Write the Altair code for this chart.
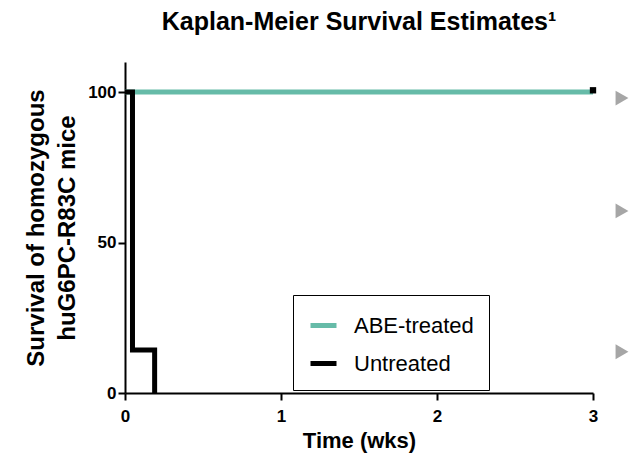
import altair as alt
import pandas as pd

# Data
abe_time = [0, 3]
abe_surv = [100, 100]
untr_time = [0, 0.048, 0.19]
untr_surv = [100, 14.3, 0]
censor_time = [3]
censor_surv = [100.6]
groups = ["ABE-treated", "Untreated"]
colors = ["#66bba8", "#000000"]
bullet_y = [98, 60.5, 13.7]

FONT = "Liberation Sans"

abe = pd.DataFrame({"t": abe_time, "s": abe_surv, "g": groups[0]})
untr = pd.DataFrame({"t": untr_time, "s": untr_surv, "g": groups[1]})
cens = pd.DataFrame({"t": censor_time, "s": censor_surv})
bul = pd.DataFrame({"y": bullet_y})

xs = alt.Scale(domain=[0, 3], nice=False)
ys = alt.Scale(domain=[0, 110], nice=False)
cs = alt.Scale(domain=groups, range=colors)

xax = alt.Axis(values=[0, 1, 2, 3], format="d", title="Time (wks)", grid=False,
               labelFont=FONT, labelFontSize=17, labelFontWeight="bold", labelColor="black",
               titleFont=FONT, titleFontSize=22, titleFontWeight="bold", titleColor="black",
               domainColor="black", domainWidth=2, tickColor="black", tickWidth=2, tickSize=7,
               labelPadding=8, titlePadding=6, labelFlush=False)
yax = alt.Axis(values=[0, 50, 100], format="d", title=["Survival of homozygous", "huG6PC-R83C mice"], grid=False,
               labelFont=FONT, labelFontSize=17, labelFontWeight="bold", labelColor="black",
               titleFont=FONT, titleFontSize=24, titleFontWeight="bold", titleColor="black",
               titleLineHeight=31,
               domainColor="black", domainWidth=2, tickColor="black", tickWidth=2, tickSize=7,
               labelPadding=2, titlePadding=8)

legend = alt.Legend(title=None, orient="none", legendX=168, legendY=233,
                    labelFont=FONT, labelFontSize=22, labelColor="black",
                    symbolType="stroke", symbolStrokeWidth=5, symbolSize=676,
                    strokeColor="black", padding=15, rowPadding=11,
                    labelOffset=15, fillColor="white")

teal = alt.Chart(abe).mark_line(strokeWidth=5, clip=False).encode(
    x=alt.X("t:Q", scale=xs, axis=xax),
    y=alt.Y("s:Q", scale=ys, axis=yax),
    color=alt.Color("g:N", scale=cs, legend=legend),
)
black = alt.Chart(untr).mark_line(strokeWidth=5, interpolate="step-after", clip=False).encode(
    x=alt.X("t:Q", scale=xs),
    y=alt.Y("s:Q", scale=ys),
    color=alt.Color("g:N", scale=cs, legend=legend),
)
censor = alt.Chart(cens).mark_square(size=40, color="black", opacity=1, clip=False).encode(
    x=alt.X("t:Q", scale=xs),
    y=alt.Y("s:Q", scale=ys),
)
bullets = alt.Chart(bul).mark_point(shape="triangle-right", size=220, filled=True,
                                    color="#a6a6a6", opacity=1, clip=False).encode(
    x=alt.value(497),
    y=alt.Y("y:Q", scale=ys),
)

chart = alt.layer(teal, black, censor, bullets).properties(
    width=468, height=331,
    title=alt.TitleParams("Kaplan-Meier Survival Estimates¹", font=FONT, fontSize=25,
                          fontWeight="bold", color="black", anchor="middle", offset=27),
    autosize=alt.AutoSizeParams(type="none"),
    padding={"left": 117, "top": 54, "right": 39, "bottom": 71},
).configure_view(stroke=None)

chart.save("out.html", embed_options={"renderer": "svg", "actions": False})
